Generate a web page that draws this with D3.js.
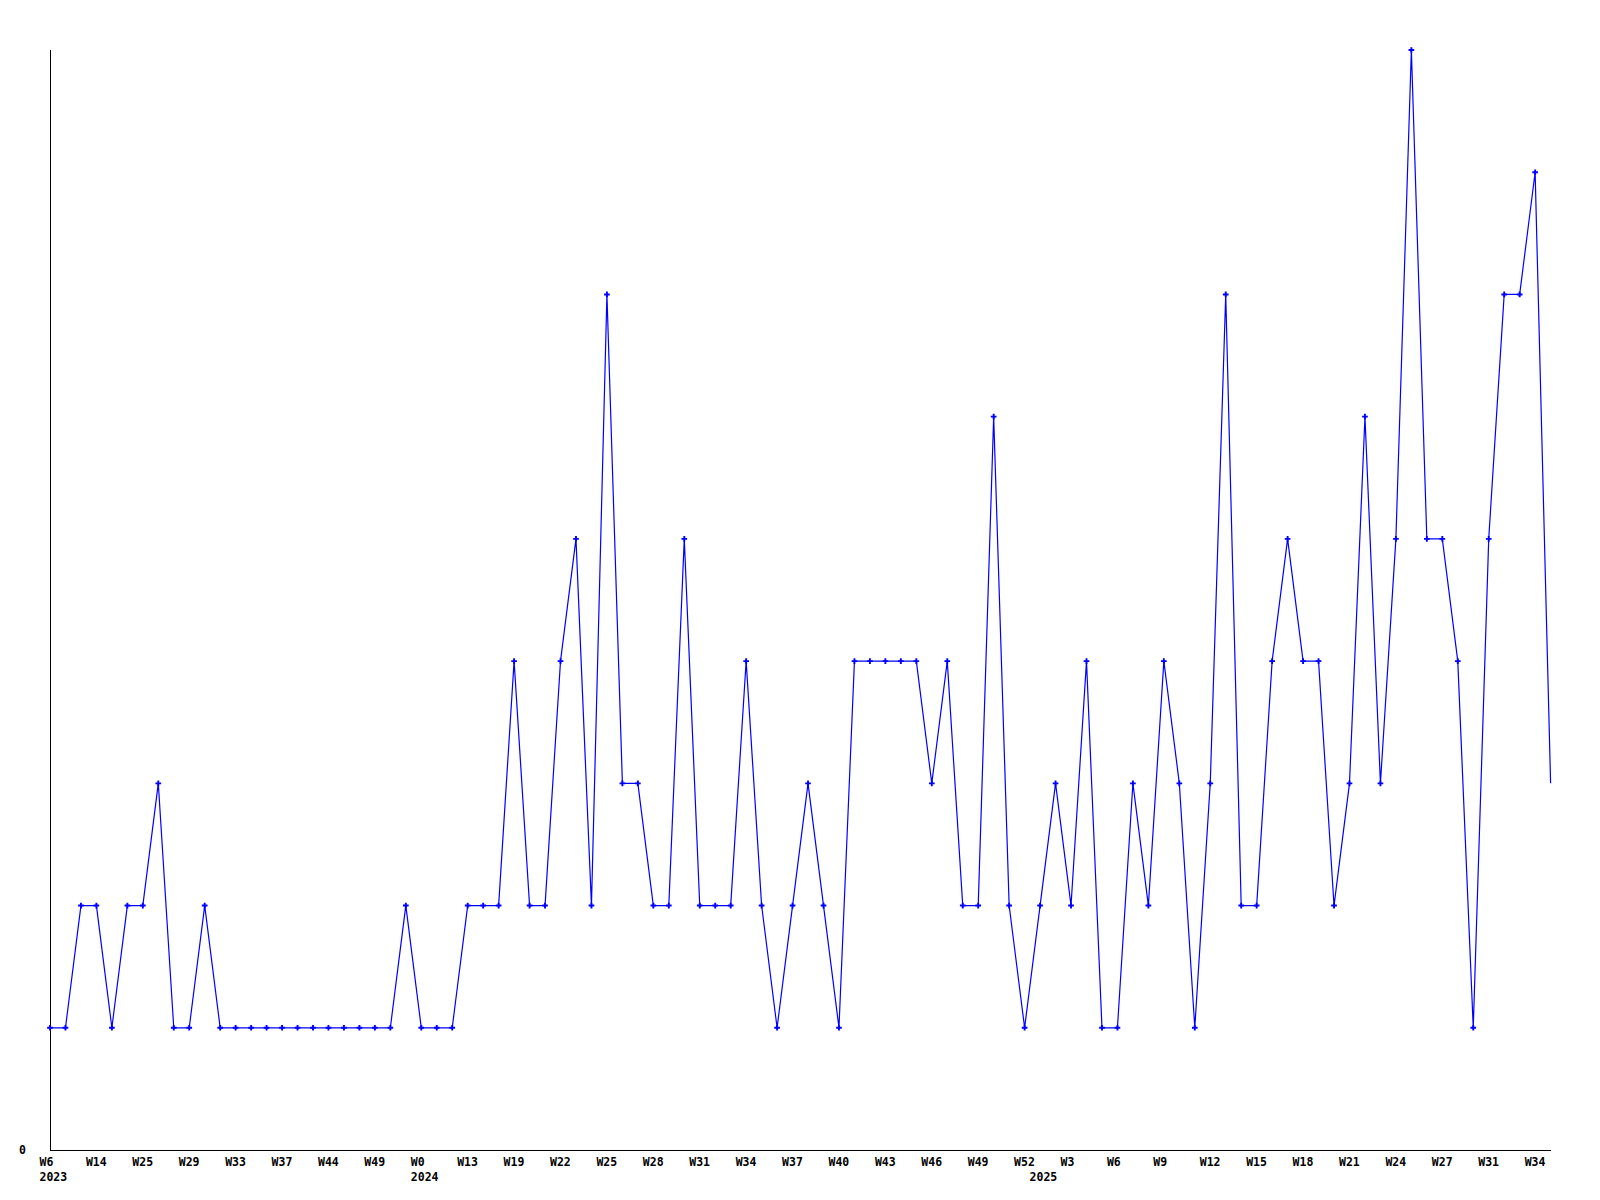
<!DOCTYPE html>
<html>
<head>
<meta charset="utf-8">
<script src="https://cdn.jsdelivr.net/npm/d3@7"></script>
<style>
  html, body { margin: 0; padding: 0; background: #ffffff; }
  svg { display: block; }
  text { font-family: "DejaVu Sans Mono", "Liberation Mono", monospace; font-weight: bold; font-size: 11.5px; fill: #000; }
</style>
</head>
<body>
<script>
// Weekly values (one per data point, in order)
const values = [
  1, 1, 2, 2, 1, 2, 2, 3, 1, 1,
  2, 1, 1, 1, 1, 1, 1, 1, 1, 1,
  1, 1, 1, 2, 1, 1, 1, 2, 2, 2,
  4, 2, 2, 4, 5, 2, 7, 3, 3, 2,
  2, 5, 2, 2, 2, 4, 2, 1, 2, 3,
  2, 1, 4, 4, 4, 4, 4, 3, 4, 2,
  2, 6, 2, 1, 2, 3, 2, 4, 1, 1,
  3, 2, 4, 3, 1, 3, 7, 2, 2, 4,
  5, 4, 4, 2, 3, 6, 3, 5, 9, 5,
  5, 4, 1, 5, 7, 7, 8, 3
];
// Week tick labels, one every 3rd data point
const weekLabels = [
  "W6", "W14", "W25", "W29", "W33", "W37", "W44", "W49",
  "W0", "W13", "W19", "W22", "W25", "W28", "W31", "W34",
  "W37", "W40", "W43", "W46", "W49", "W52",
  "W3", "W6", "W9", "W12", "W15", "W18", "W21", "W24", "W27", "W31", "W34"
];
const weekLabelStep = 3;
// Year labels: data point index where each year starts
const yearIndex = [0, 24, 64];
const yearNames = ["2023", "2024", "2025"];
const yMax = 9;

const W = 1600, H = 1200;
const svg = d3.select("body").append("svg").attr("width", W).attr("height", H);
svg.append("rect").attr("width", W).attr("height", H).attr("fill", "#fff");

const x = d3.scaleLinear().domain([0, values.length - 1]).range([50, 1550.6]);
const y = d3.scaleLinear().domain([0, yMax]).range([1150, 50]);

// axes lines
svg.append("line").attr("x1", x(0)).attr("x2", x(0)).attr("y1", y(yMax)).attr("y2", y(0))
  .attr("stroke", "#000").attr("stroke-width", 1).attr("shape-rendering", "crispEdges");
svg.append("line").attr("x1", x(0)).attr("x2", x(values.length - 1)).attr("y1", y(0)).attr("y2", y(0))
  .attr("stroke", "#000").attr("stroke-width", 1).attr("shape-rendering", "crispEdges");

// y label "0"
svg.append("text").attr("x", x(0) - 24).attr("y", y(0) + 4).attr("text-anchor", "end").text("0");

// line
const line = d3.line().x((d, i) => x(i)).y(d => y(d));
svg.append("path").datum(values).attr("d", line)
  .attr("fill", "none").attr("stroke", "#0000ff").attr("stroke-width", 1.2);

// markers (all but last point)
const sym = d3.symbol(d3.symbolCross, 18);
svg.selectAll("path.mk").data(values.slice(0, values.length - 1)).join("path")
  .attr("class", "mk")
  .attr("d", sym)
  .attr("transform", (d, i) => `translate(${x(i)},${y(d)})`)
  .attr("fill", "#0000ff");

// week labels
svg.selectAll("text.wk").data(weekLabels).join("text")
  .attr("class", "wk")
  .attr("x", (d, k) => x(k * weekLabelStep) - 10.5)
  .attr("y", 1165.5)
  .text(d => d);

// year labels
svg.selectAll("text.yr").data(yearNames).join("text")
  .attr("class", "yr")
  .attr("x", (d, k) => x(yearIndex[k]) - 10.5)
  .attr("y", 1181)
  .text(d => d);
</script>
</body>
</html>
